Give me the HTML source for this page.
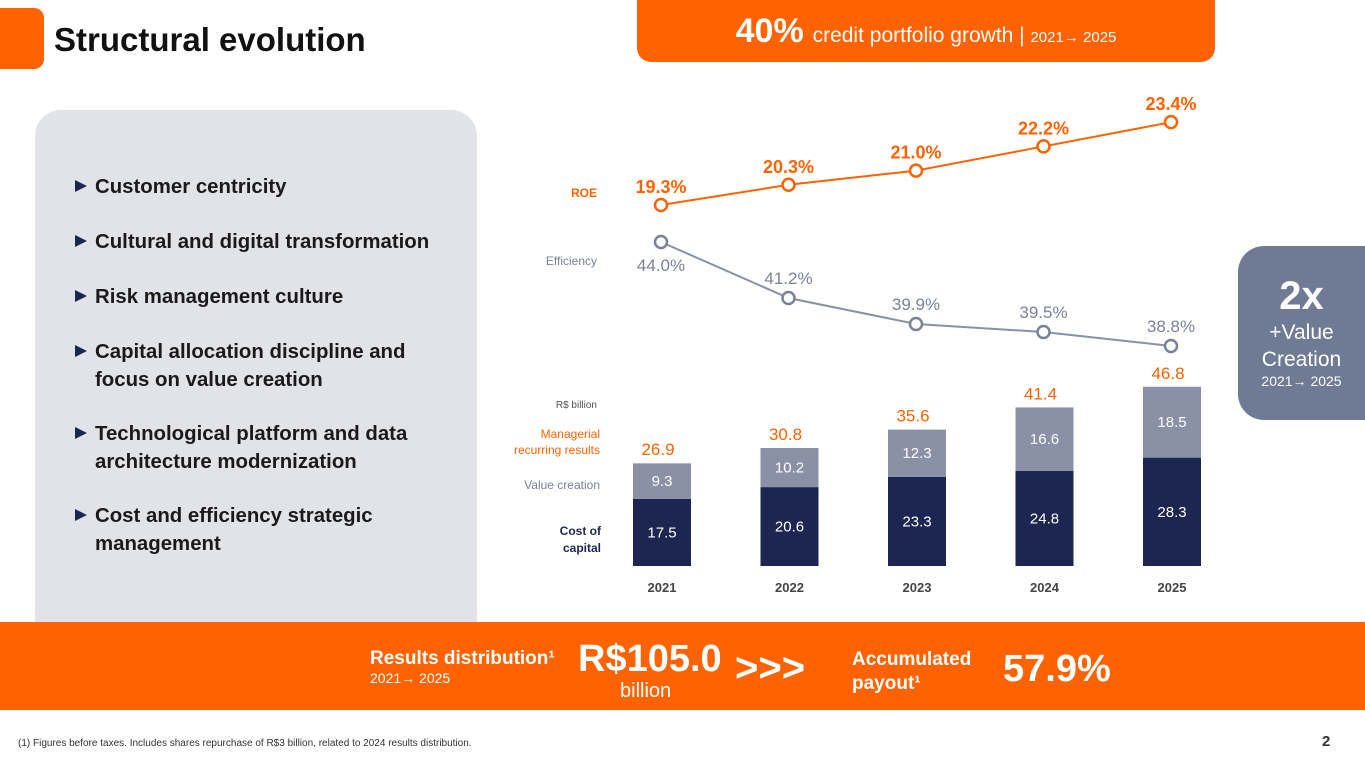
<!DOCTYPE html>
<html><head><meta charset="utf-8"><style>
body{margin:0;width:1365px;height:768px;position:relative;overflow:hidden;background:#fff;font-family:"Liberation Sans","DejaVu Sans",sans-serif}
.abs{position:absolute}
.item{position:absolute;left:74px;font-weight:bold;font-size:20.4px;color:#1a1a1a;line-height:28px}
.item:before{content:"";position:absolute;left:-20px;top:7px;border-left:12px solid #1c2651;border-top:6px solid transparent;border-bottom:6px solid transparent}
</style></head><body>
<div class="abs" style="left:0;top:8px;width:44px;height:61px;background:#ff6200;border-radius:0 10px 10px 0"></div>
<div class="abs" style="left:54px;top:21px;font-size:33px;font-weight:bold;color:#111">Structural evolution</div>
<div class="abs" style="left:637px;top:0;width:578px;height:62px;background:#ff6200;border-radius:0 0 14px 14px;color:#fff;text-align:center;line-height:62px;white-space:nowrap"><b style="font-size:34px">40%</b>&nbsp; <span style="font-size:21px">credit portfolio growth | </span><span style="font-size:15px">2021→ 2025</span></div>
<div class="abs" style="left:35px;top:110px;width:442px;height:520px;background:#e2e3e8;border-radius:26px 26px 0 0">
<div class="item" style="top:63px;left:60px">Customer centricity</div>
<div class="item" style="top:118px;left:60px">Cultural and digital transformation</div>
<div class="item" style="top:173px;left:60px">Risk management culture</div>
<div class="item" style="top:228px;left:60px">Capital allocation discipline and<br>focus on value creation</div>
<div class="item" style="top:310px;left:60px">Technological platform and data<br>architecture modernization</div>
<div class="item" style="top:392px;left:60px">Cost and efficiency strategic<br>management</div>
</div>
<div class="abs" style="left:1238px;top:246px;width:140px;height:174px;background:#6f7a94;border-radius:26px 0 0 26px;color:#fff;text-align:center">
<div style="font-size:40px;font-weight:bold;margin-top:28px;width:127px">2x</div>
<div style="font-size:21px;line-height:27px;width:127px">+Value<br>Creation</div>
<div style="font-size:14px;width:127px">2021→ 2025</div></div>
<svg class="abs" style="left:0;top:0" width="1365" height="768" id="chart" font-family="Liberation Sans, DejaVu Sans, sans-serif"></svg>
<div class="abs" style="left:0;top:622px;width:1365px;height:88px;background:#ff6200;color:#fff">
<div class="abs" style="left:370px;top:26px;font-size:19px;font-weight:bold">Results distribution¹</div>
<div class="abs" style="left:370px;top:48px;font-size:14px">2021→ 2025</div>
<div class="abs" style="left:578px;top:16px;font-size:38px;font-weight:bold">R$105.0</div>
<div class="abs" style="left:620px;top:58px;font-size:20px">billion</div>
<div class="abs" style="left:735px;top:24px;font-size:40px;font-weight:bold">&gt;&gt;&gt;</div>
<div class="abs" style="left:852px;top:26px;font-size:19px;font-weight:bold;line-height:24px">Accumulated<br>payout¹</div>
<div class="abs" style="left:1003px;top:26px;font-size:38px;font-weight:bold">57.9%</div>
</div>
<div class="abs" style="left:18px;top:738px;font-size:10px;color:#333">(1) Figures before taxes. Includes shares repurchase of R$3 billion, related to 2024 results distribution.</div>
<div class="abs" style="left:1322px;top:733px;font-size:15px;font-weight:bold;color:#333">2</div>
<script>
const years=["2021","2022","2023","2024","2025"];
const costCapital=[17.5,20.6,23.3,24.8,28.3];
const valueCreation=[9.3,10.2,12.3,16.6,18.5];
const totals=[26.9,30.8,35.6,41.4,46.8];
const roe=[19.3,20.3,21.0,22.2,23.4];
const efficiency=[44.0,41.2,39.9,39.5,38.8];
const svg=document.getElementById('chart');
const NS="http://www.w3.org/2000/svg";
const xPos=i=>662+127.5*i;
const yBar=v=>566-v*3.83;
const yRoe=v=>205-(v-19.3)*20.2;
const yEff=v=>242+(44-v)*20;
function mk(t,a,txt){const e=document.createElementNS(NS,t);for(const k in a)e.setAttribute(k,a[k]);if(txt!==undefined)e.textContent=txt;svg.appendChild(e);return e;}
function lab(x,y,s,c,sz,w,anc){return mk('text',{x:x,y:y,fill:c,'font-size':sz,'font-weight':w||'normal','text-anchor':anc||'middle'},s);}
let e;
e=lab(597,197,"ROE","#ff6200",12,"bold","end");
e=lab(597,265,"Efficiency","#7a8296",12,"normal","end");
lab(597,408,"R$ billion","#555",10,"normal","end");
lab(600,438,"Managerial","#ff6200",12,"normal","end");
lab(600,454,"recurring results","#ff6200",12,"normal","end");
lab(600,489,"Value creation","#7a8296",12,"normal","end");
lab(601,535,"Cost of","#1c2651",12,"bold","end");
lab(601,552,"capital","#1c2651",12,"bold","end");
years.forEach((y,i)=>{
 const x=xPos(i),w=58;
 const r1=mk('rect',{x:x-w/2,y:yBar(costCapital[i]),width:w,height:566-yBar(costCapital[i]),fill:'#1c2651'});
 
 
 const r2=mk('rect',{x:x-w/2,y:yBar(costCapital[i]+valueCreation[i]),width:w,height:valueCreation[i]*3.83,fill:'#8a90a6'});
 
 
 lab(x,(yBar(costCapital[i])+566)/2+5,costCapital[i].toFixed(1),'#fff',15);
 lab(x,(yBar(costCapital[i])+yBar(costCapital[i]+valueCreation[i]))/2+5,valueCreation[i].toFixed(1),'#fff',15);
 lab(x-4,yBar(totals[i])-8,totals[i].toFixed(1),'#ff6200',17);
 const t=lab(x,592,y,'#444',13,'bold');
 
 
});
const rp=roe.map((v,i)=>xPos(i)-1+','+yRoe(v)).join(' ');
e=mk('polyline',{points:rp,fill:'none',stroke:'#ff6200','stroke-width':2});

const ep=efficiency.map((v,i)=>xPos(i)-1+','+yEff(v)).join(' ');
e=mk('polyline',{points:ep,fill:'none',stroke:'#8a90a6','stroke-width':2});

roe.forEach((v,i)=>{
 const c=mk('circle',{cx:xPos(i)-1,cy:yRoe(v),r:6,fill:'#fff',stroke:'#ff6200','stroke-width':2.5});
 
 
 lab(xPos(i)-1,yRoe(v)-12,v.toFixed(1)+'%','#ff6200',18,'bold');
});
efficiency.forEach((v,i)=>{
 const c=mk('circle',{cx:xPos(i)-1,cy:yEff(v),r:6,fill:'#fff',stroke:'#7a8296','stroke-width':2.5});
 
 
 lab(xPos(i)-1,i===0?yEff(v)+29:yEff(v)-14,v.toFixed(1)+'%','#7a8296',17);
});
</script>
</body></html>
